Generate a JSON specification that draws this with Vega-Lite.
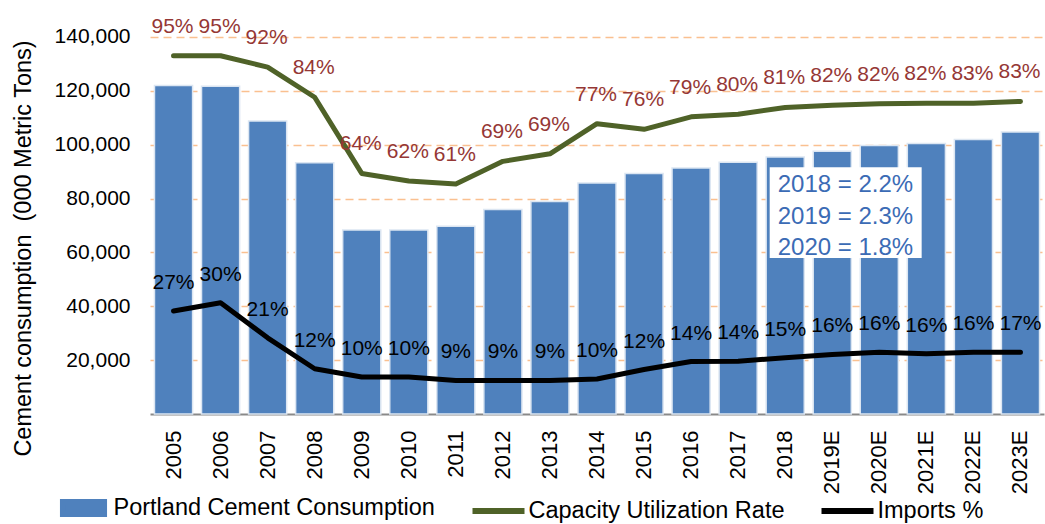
{
  "$schema": "https://vega.github.io/schema/vega-lite/v6.json",
  "width": 894,
  "height": 404,
  "autosize": {"type": "none"},
  "padding": {"left": 150, "top": 10, "right": 1, "bottom": 110},
  "background": "white",
  "config": {
    "view": {"stroke": null},
    "font": "Liberation Sans",
    "legend": {"symbolSize": 2704, "symbolStrokeWidth": 6, "labelOffset": 1}
  },
  "datasets": {
    "main": [
      {"year": "2005", "cons": 122000, "cap": 0.95, "imp": 0.273, "capL": "95%", "impL": "27%"},
      {"year": "2006", "cons": 121700, "cap": 0.95, "imp": 0.295, "capL": "95%", "impL": "30%"},
      {"year": "2007", "cons": 108800, "cap": 0.92, "imp": 0.202, "capL": "92%", "impL": "21%"},
      {"year": "2008", "cons": 93300, "cap": 0.84, "imp": 0.12, "capL": "84%", "impL": "12%"},
      {"year": "2009", "cons": 68300, "cap": 0.638, "imp": 0.098, "capL": "64%", "impL": "10%"},
      {"year": "2010", "cons": 68300, "cap": 0.618, "imp": 0.098, "capL": "62%", "impL": "10%"},
      {"year": "2011", "cons": 69700, "cap": 0.61, "imp": 0.089, "capL": "61%", "impL": "9%"},
      {"year": "2012", "cons": 75900, "cap": 0.67, "imp": 0.089, "capL": "69%", "impL": "9%"},
      {"year": "2013", "cons": 78900, "cap": 0.69, "imp": 0.089, "capL": "69%", "impL": "9%"},
      {"year": "2014", "cons": 85800, "cap": 0.77, "imp": 0.093, "capL": "77%", "impL": "10%"},
      {"year": "2015", "cons": 89300, "cap": 0.755, "imp": 0.118, "capL": "76%", "impL": "12%"},
      {"year": "2016", "cons": 91300, "cap": 0.788, "imp": 0.139, "capL": "79%", "impL": "14%"},
      {"year": "2017", "cons": 93500, "cap": 0.795, "imp": 0.14, "capL": "80%", "impL": "14%"},
      {"year": "2018", "cons": 95400, "cap": 0.813, "imp": 0.149, "capL": "81%", "impL": "15%"},
      {"year": "2019E", "cons": 97600, "cap": 0.819, "imp": 0.158, "capL": "82%", "impL": "16%"},
      {"year": "2020E", "cons": 99700, "cap": 0.823, "imp": 0.164, "capL": "82%", "impL": "16%"},
      {"year": "2021E", "cons": 100400, "cap": 0.824, "imp": 0.16, "capL": "82%", "impL": "16%"},
      {"year": "2022E", "cons": 101900, "cap": 0.824, "imp": 0.164, "capL": "83%", "impL": "16%"},
      {"year": "2023E", "cons": 104700, "cap": 0.829, "imp": 0.164, "capL": "83%", "impL": "17%"}
    ],
    "box": [{"x1": 13.17, "x2": 16.4, "y1": 91600, "y2": 57900}],
    "note": [
      {"tx": 13.34, "ty": 85000, "t": "2018 = 2.2%"},
      {"tx": 13.34, "ty": 73300, "t": "2019 = 2.3%"},
      {"tx": 13.34, "ty": 61600, "t": "2020 = 1.8%"}
    ]
  },
  "layer": [
    {
      "data": {"name": "main"},
      "layer": [
        {
          "mark": {"type": "bar", "color": "#4F81BD", "stroke": "#DCE6F2", "strokeWidth": 1.5},
          "encoding": {
            "x": {
              "field": "year", "type": "ordinal", "sort": null,
              "scale": {"paddingInner": 0.19, "paddingOuter": 0.095},
              "axis": {
                "title": null, "labelAngle": -90, "labelFontSize": 22, "labelColor": "#000000",
                "labelPadding": 16, "ticks": false, "tickSize": 0, "domainColor": "#898989",
                "domainWidth": 2, "grid": false
              }
            },
            "y": {
              "field": "cons", "type": "quantitative",
              "scale": {"domain": [0, 150000], "nice": false},
              "axis": {
                "title": "Cement consumption\u00a0 (000 Metric Tons)",
                "values": [20000, 40000, 60000, 80000, 100000, 120000, 140000],
                "format": ",d", "labelFontSize": 21, "labelColor": "#000000", "labelPadding": 20,
                "ticks": false, "tickSize": 0, "domain": false, "grid": true,
                "gridColor": "#FAC090", "gridDash": [8, 5], "gridWidth": 1.5,
                "titleFontSize": 23.5, "titleFontWeight": "normal", "titleColor": "#000000",
                "titleX": -127, "titleY": 238, "titleBaseline": "middle", "titleAngle": -90, "titleAlign": "center"
              }
            },
            "color": {
              "datum": "Portland Cement Consumption", "type": "nominal",
              "scale": {
                "domain": ["Portland Cement Consumption", "Capacity Utilization Rate", "Imports %"],
                "range": ["#4F81BD", "#4F6228", "#000000"]
              },
              "legend": {
                "orient": "none", "legendX": -95.5, "legendY": 469, "direction": "horizontal",
                "title": null, "labelFontSize": 23.5, "labelColor": "#000000", "labelFont": "Liberation Sans",
                "symbolSize": 2704, "labelOffset": 1, "columnPadding": 25, "padding": 0, "labelLimit": 500,
                "encode": {
                  "symbols": {
                    "update": {
                      "shape": {"signal": "datum.value === 'Portland Cement Consumption' ? 'M-0.79,-0.23H0.79V0.23H-0.79Z' : 'stroke'"},
                      "size": {"value": 2704},
                      "fill": {"signal": "datum.value === 'Portland Cement Consumption' ? '#4F81BD' : 'transparent'"},
                      "stroke": {"signal": "datum.value === 'Portland Cement Consumption' ? '#4F81BD' : (datum.value === 'Imports %' ? '#000000' : '#4F6228')"},
                      "strokeWidth": {"value": 6},
                      "opacity": {"value": 1}
                    }
                  }
                }
              }
            }
          }
        },
        {
          "mark": {"type": "line", "strokeWidth": 5, "strokeCap": "round", "strokeJoin": "round"},
          "encoding": {
            "x": {"field": "year", "type": "ordinal", "sort": null},
            "y": {"field": "cap", "type": "quantitative", "scale": {"domain": [0, 1.0714], "nice": false}, "axis": null},
            "color": {
              "datum": "Capacity Utilization Rate", "type": "nominal",
              "legend": {
                "orient": "none", "legendX": -95.5, "legendY": 469, "direction": "horizontal",
                "title": null, "labelFontSize": 23.5, "labelColor": "#000000", "labelFont": "Liberation Sans",
                "symbolSize": 2704, "labelOffset": 1, "columnPadding": 25, "padding": 0, "labelLimit": 500,
                "encode": {
                  "symbols": {
                    "update": {
                      "shape": {"signal": "datum.value === 'Portland Cement Consumption' ? 'M-0.79,-0.23H0.79V0.23H-0.79Z' : 'stroke'"},
                      "size": {"value": 2704},
                      "fill": {"signal": "datum.value === 'Portland Cement Consumption' ? '#4F81BD' : 'transparent'"},
                      "stroke": {"signal": "datum.value === 'Portland Cement Consumption' ? '#4F81BD' : (datum.value === 'Imports %' ? '#000000' : '#4F6228')"},
                      "strokeWidth": {"value": 6},
                      "opacity": {"value": 1}
                    }
                  }
                }
              }
            }
          }
        },
        {
          "mark": {"type": "text", "color": "#953735", "fontSize": 21, "dy": -29, "dx": -1, "baseline": "middle", "align": "center"},
          "encoding": {
            "x": {"field": "year", "type": "ordinal", "sort": null},
            "y": {"field": "cap", "type": "quantitative", "scale": {"domain": [0, 1.0714], "nice": false}, "axis": null},
            "text": {"field": "capL"}
          }
        },
        {
          "mark": {"type": "line", "strokeWidth": 5, "strokeCap": "round", "strokeJoin": "round"},
          "encoding": {
            "x": {"field": "year", "type": "ordinal", "sort": null},
            "y": {"field": "imp", "type": "quantitative", "scale": {"domain": [0, 1.0714], "nice": false}, "axis": null},
            "color": {
              "datum": "Imports %", "type": "nominal",
              "legend": {
                "orient": "none", "legendX": -95.5, "legendY": 469, "direction": "horizontal",
                "title": null, "labelFontSize": 23.5, "labelColor": "#000000", "labelFont": "Liberation Sans",
                "symbolSize": 2704, "labelOffset": 1, "columnPadding": 25, "padding": 0, "labelLimit": 500,
                "encode": {
                  "symbols": {
                    "update": {
                      "shape": {"signal": "datum.value === 'Portland Cement Consumption' ? 'M-0.79,-0.23H0.79V0.23H-0.79Z' : 'stroke'"},
                      "size": {"value": 2704},
                      "fill": {"signal": "datum.value === 'Portland Cement Consumption' ? '#4F81BD' : 'transparent'"},
                      "stroke": {"signal": "datum.value === 'Portland Cement Consumption' ? '#4F81BD' : (datum.value === 'Imports %' ? '#000000' : '#4F6228')"},
                      "strokeWidth": {"value": 6},
                      "opacity": {"value": 1}
                    }
                  }
                }
              }
            }
          }
        },
        {
          "mark": {"type": "text", "color": "#000000", "fontSize": 21, "dy": -28, "baseline": "middle", "align": "center"},
          "encoding": {
            "x": {"field": "year", "type": "ordinal", "sort": null},
            "y": {"field": "imp", "type": "quantitative", "scale": {"domain": [0, 1.0714], "nice": false}, "axis": null},
            "text": {"field": "impL"}
          }
        }
      ],
      "resolve": {"scale": {"y": "independent"}}
    },
    {
      "layer": [
        {
          "data": {"name": "box"},
          "mark": {"type": "rect", "fill": "#FFFFFF"},
          "encoding": {
            "x": {"field": "x1", "type": "quantitative", "scale": {"domain": [0, 19], "nice": false, "zero": false}, "axis": null},
            "x2": {"field": "x2"},
            "y": {"field": "y1", "type": "quantitative", "scale": {"domain": [0, 150000], "nice": false}, "axis": null},
            "y2": {"field": "y2"}
          }
        },
        {
          "data": {"name": "note"},
          "mark": {"type": "text", "align": "left", "baseline": "middle", "fontSize": 24, "color": "#3B6BB5"},
          "encoding": {
            "x": {"field": "tx", "type": "quantitative", "scale": {"domain": [0, 19], "nice": false, "zero": false}, "axis": null},
            "y": {"field": "ty", "type": "quantitative", "scale": {"domain": [0, 150000], "nice": false}, "axis": null},
            "text": {"field": "t"}
          }
        }
      ]
    }
  ],
  "resolve": {"scale": {"x": "independent", "y": "independent"}}
}
